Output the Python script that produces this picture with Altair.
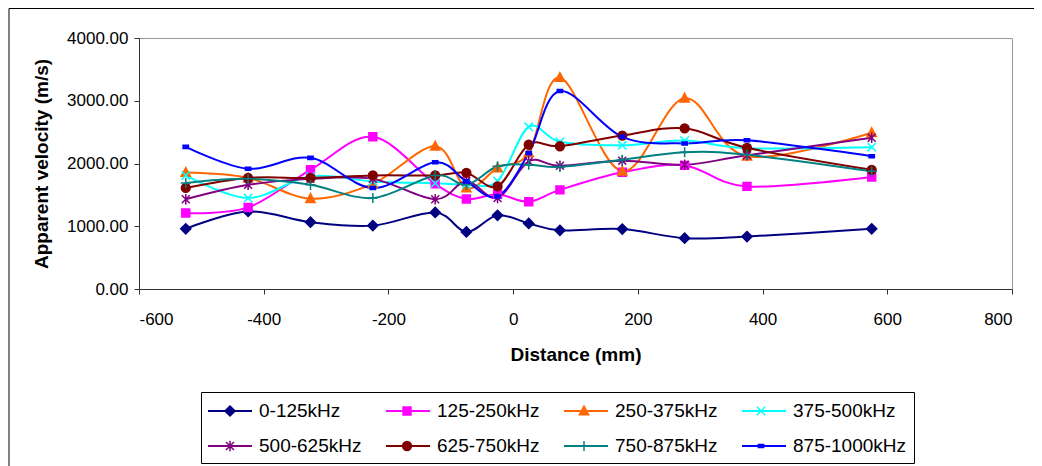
import altair as alt
import pandas as pd

# ---- data ----
distance = [-525, -425, -325, -225, -125, -75, -25, 25, 75, 175, 275, 375, 575]
series_names = ["0-125kHz", "125-250kHz", "250-375kHz", "375-500kHz",
                "500-625kHz", "625-750kHz", "750-875kHz", "875-1000kHz"]
v_0_125 = [960, 1235, 1065, 1010, 1220, 910, 1175, 1045, 935, 955, 810, 835, 960]
v_125_250 = [1210, 1300, 1900, 2425, 1675, 1435, 1510, 1390, 1580, 1860, 1970, 1635, 1785]
v_250_375 = [1855, 1770, 1440, 1675, 2275, 1610, 1930, 2170, 3370, 1875, 3040, 2115, 2490]
v_375_500 = [1810, 1450, 1795, 1715, 1685, 1670, 1720, 2585, 2345, 2290, 2365, 2245, 2260]
v_500_625 = [1430, 1660, 1755, 1755, 1430, 1720, 1450, 2035, 1965, 2045, 1980, 2130, 2410]
v_625_750 = [1610, 1770, 1770, 1810, 1810, 1850, 1635, 2300, 2275, 2445, 2560, 2250, 1900]
v_750_875 = [1690, 1755, 1660, 1450, 1810, 1662, 1955, 1980, 1945, 2060, 2180, 2140, 1875]
v_875_1000 = [2265, 1915, 2090, 1610, 2020, 1715, 1475, 2165, 3155, 2425, 2320, 2370, 2115]
all_values = [v_0_125, v_125_250, v_250_375, v_375_500,
              v_500_625, v_625_750, v_750_875, v_875_1000]

colors = ["#000080", "#FF00FF", "#FF6600", "#00FFFF",
          "#800080", "#800000", "#008080", "#0000FF"]

# marker shapes (1 unit = 11 px at size 484); zero-length end segments keep legend bounds equal
ext = "M-2,0L-2,0M2,0L2,0"
markers = [
    "M0,-0.46L0.46,0L0,0.46L-0.46,0Z" + ext,                        # diamond
    "M-0.36,-0.36L0.36,-0.36L0.36,0.36L-0.36,0.36Z" + ext,          # square
    "M0,-0.45L0.42,0.34L-0.42,0.34Z" + ext,                         # triangle
    "M-0.38,-0.38L0.38,0.38M-0.38,0.38L0.38,-0.38" + ext,           # x
    "M-0.36,-0.36L0.36,0.36M-0.36,0.36L0.36,-0.36M0,-0.48L0,0.48" + ext,  # asterisk
    "M-0.4,0A0.4,0.4 0 1,0 0.4,0A0.4,0.4 0 1,0 -0.4,0Z" + ext,      # circle
    "M-0.46,0L0.46,0M0,-0.46L0,0.46" + ext,                         # plus
    "M-0.24,-0.14L0.24,-0.14L0.24,0.14L-0.24,0.14Z" + ext,          # dash
]

rows = []
for name, vals in zip(series_names, all_values):
    for d, v in zip(distance, vals):
        rows.append({"distance": d, "velocity": v, "series": name})
df = pd.DataFrame(rows)

FONT = "Liberation Sans"
SYM = 484

x_enc = alt.X("distance:Q",
              scale=alt.Scale(domain=[-600, 800], nice=False, zero=False),
              axis=alt.Axis(values=[-600, -400, -200, 0, 200, 400, 600, 800],
                            labelExpr="'' + datum.value",
                            labelPadding=17, titlePadding=18),
              title="Distance (mm)")
y_enc = alt.Y("velocity:Q",
              scale=alt.Scale(domain=[0, 4000], nice=False),
              axis=alt.Axis(values=[0, 1000, 2000, 3000, 4000], format=".2f",
                            labelPadding=6, titlePadding=15),
              title="Apparent velocity (m/s)")

common_legend = dict(title=None, orient="none", legendX=62, legendY=354,
                     columns=4, direction="horizontal", symbolSize=SYM,
                     symbolOffset=10, labelOffset=17, labelFont=FONT,
                     labelFontSize=19, labelColor="black", columnPadding=9,
                     rowPadding=13, padding=7, gridAlign="all")

legend_line = alt.Legend(symbolType="M-2,0L2,0", symbolStrokeWidth=2,
                         strokeColor="black", **common_legend)
legend_mark = alt.Legend(symbolStrokeWidth=1.5, labelOpacity=0, **common_legend)

base = alt.Chart(df)

lines = base.mark_line(interpolate="cardinal", strokeWidth=2).encode(
    x=x_enc, y=y_enc,
    color=alt.Color("series:N", scale=alt.Scale(domain=series_names, range=colors),
                    legend=legend_line),
)

points = base.transform_calculate(series_m="datum.series").mark_point(
    size=SYM, opacity=1, strokeWidth=1.5
).encode(
    x=x_enc, y=y_enc,
    fill=alt.Fill("series_m:N", scale=alt.Scale(range=colors), legend=legend_mark),
    stroke=alt.Stroke("series_m:N", scale=alt.Scale(range=colors), legend=legend_mark),
    shape=alt.Shape("series_m:N", scale=alt.Scale(range=markers), legend=legend_mark),
)

one = alt.Data(values=[{}])
frame_top = alt.Chart(one).mark_rule(color="black", strokeWidth=1).encode(
    x=alt.value(-130), x2=alt.value(900), y=alt.value(-29.5))
frame_left = alt.Chart(one).mark_rule(color="black", strokeWidth=1).encode(
    x=alt.value(-130), y=alt.value(-29.5), y2=alt.value(440))

chart = alt.layer(lines, points, frame_top, frame_left).properties(
    width=873, height=251,
    autosize=alt.AutoSizeParams(type="none"),
    padding={"left": 131, "top": 30, "right": 22, "bottom": 177},
).configure_view(
    stroke="#999999", strokeWidth=1
).configure_axis(
    grid=False, domainColor="#333333", tickColor="#333333", tickSize=5,
    labelFont=FONT, labelFontSize=17, labelColor="black",
    titleFont=FONT, titleFontSize=19, titleFontWeight="bold", titleColor="black",
)

chart.save("out.html", embed_options={"renderer": "svg", "actions": False})
